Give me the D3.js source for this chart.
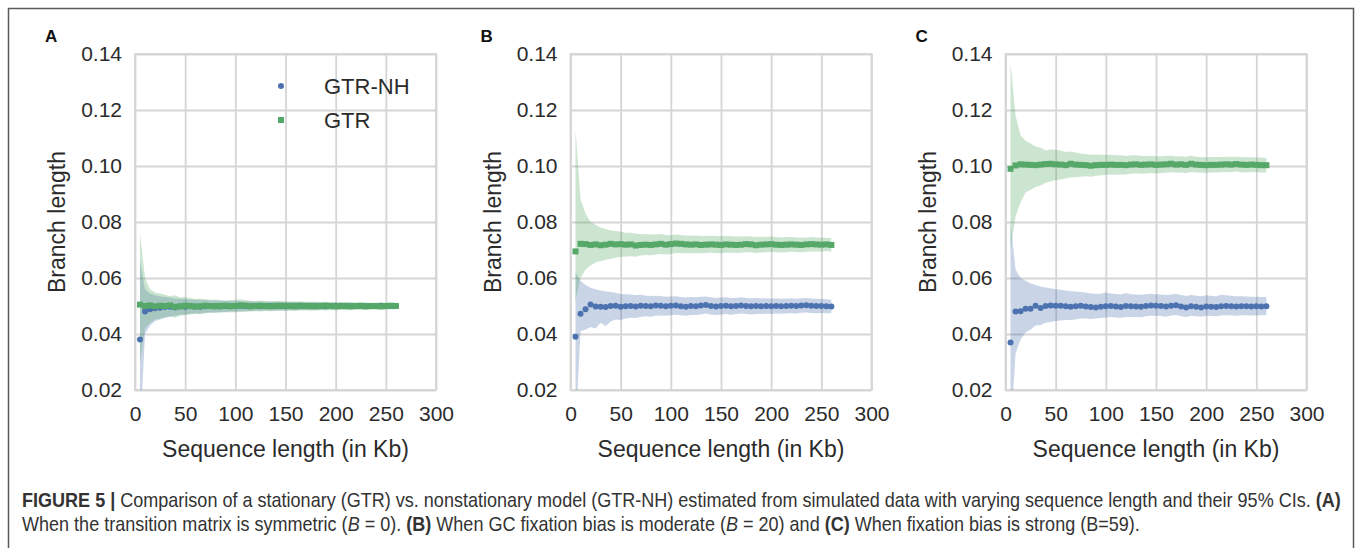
<!DOCTYPE html>
<html>
<head>
<meta charset="utf-8">
<script src="https://cdn.jsdelivr.net/npm/d3@7/dist/d3.min.js"></script>
<style>
body { margin: 0; background: #fff; }
svg text { font-family: "Liberation Sans", Arial, sans-serif; }
</style>
</head>
<body>
<div id="figure"></div>
<script>
// sequence length (Kb)
var seqLength = [5,10,15,20,25,30,35,40,45,50,55,60,65,70,75,80,85,90,95,100,105,110,115,120,125,130,
    135,140,145,150,155,160,165,170,175,180,185,190,195,200,205,210,215,220,225,230,235,240,245,250,255,260];

// panel A (B = 0)
var nhMeanA = [0.0380,0.0480,0.0488,0.0492,0.0494,0.0496,0.0497,0.0495,0.0498,0.0497,0.0499,0.0498,0.0497,0.0499,0.0500,0.0499,0.0498,0.0500,0.0499,0.0500,0.0501,0.0500,0.0499,0.0500,0.0500,0.0499,
    0.0500,0.0501,0.0500,0.0499,0.0500,0.0500,0.0501,0.0500,0.0499,0.0500,0.0500,0.0499,0.0500,0.0500,0.0501,0.0500,0.0499,0.0500,0.0500,0.0499,0.0500,0.0500,0.0501,0.0500,0.0500,0.0500];
var nhHighA = [0.0660,0.0560,0.0545,0.0538,0.0535,0.0532,0.0530,0.0527,0.0526,0.0525,0.0523,0.0522,0.0521,0.0521,0.0520,0.0519,0.0519,0.0518,0.0518,0.0518,0.0517,0.0517,0.0516,0.0516,0.0516,0.0515,
    0.0515,0.0515,0.0514,0.0514,0.0514,0.0514,0.0513,0.0513,0.0513,0.0513,0.0513,0.0512,0.0512,0.0512,0.0512,0.0512,0.0512,0.0511,0.0511,0.0511,0.0511,0.0511,0.0511,0.0511,0.0510,0.0510];
var nhLowA = [0.0050,0.0400,0.0430,0.0446,0.0452,0.0458,0.0462,0.0465,0.0468,0.0470,0.0472,0.0473,0.0474,0.0476,0.0477,0.0478,0.0478,0.0479,0.0480,0.0480,0.0481,0.0482,0.0482,0.0483,0.0483,0.0484,
    0.0484,0.0484,0.0485,0.0485,0.0485,0.0486,0.0486,0.0486,0.0487,0.0487,0.0487,0.0487,0.0488,0.0488,0.0488,0.0488,0.0488,0.0489,0.0489,0.0489,0.0489,0.0489,0.0489,0.0490,0.0490,0.0490];
var gtrMeanA = [0.0505,0.0500,0.0502,0.0499,0.0501,0.0500,0.0502,0.0497,0.0499,0.0501,0.0500,0.0498,0.0499,0.0501,0.0500,0.0499,0.0500,0.0501,0.0499,0.0500,0.0502,0.0501,0.0499,0.0500,0.0501,0.0500,
    0.0499,0.0500,0.0501,0.0500,0.0500,0.0499,0.0501,0.0500,0.0500,0.0499,0.0500,0.0501,0.0500,0.0499,0.0500,0.0500,0.0499,0.0500,0.0501,0.0499,0.0500,0.0500,0.0499,0.0500,0.0501,0.0500];
var gtrHighA = [0.0760,0.0600,0.0560,0.0548,0.0545,0.0540,0.0535,0.0538,0.0530,0.0532,0.0528,0.0525,0.0527,0.0524,0.0522,0.0523,0.0521,0.0520,0.0521,0.0522,0.0524,0.0521,0.0519,0.0518,0.0520,0.0518,
    0.0517,0.0518,0.0519,0.0517,0.0516,0.0517,0.0516,0.0515,0.0516,0.0515,0.0514,0.0515,0.0514,0.0514,0.0513,0.0514,0.0513,0.0513,0.0512,0.0513,0.0512,0.0512,0.0513,0.0512,0.0512,0.0512];
var gtrLowA = [0.0300,0.0420,0.0440,0.0452,0.0455,0.0460,0.0463,0.0458,0.0466,0.0467,0.0470,0.0472,0.0470,0.0474,0.0476,0.0475,0.0477,0.0478,0.0477,0.0478,0.0479,0.0479,0.0480,0.0481,0.0480,0.0482,
    0.0481,0.0482,0.0483,0.0482,0.0483,0.0482,0.0484,0.0484,0.0483,0.0484,0.0485,0.0484,0.0485,0.0485,0.0486,0.0485,0.0486,0.0486,0.0487,0.0486,0.0487,0.0487,0.0486,0.0487,0.0488,0.0488];

// panel B (B = 20)
var nhMeanB = [0.0390,0.0472,0.0488,0.0505,0.0498,0.0497,0.0496,0.0500,0.0501,0.0497,0.0499,0.0500,0.0498,0.0501,0.0500,0.0499,0.0502,0.0501,0.0499,0.0501,0.0502,0.0499,0.0497,0.0500,0.0499,0.0502,
    0.0504,0.0500,0.0498,0.0500,0.0501,0.0499,0.0500,0.0502,0.0500,0.0499,0.0500,0.0499,0.0500,0.0499,0.0500,0.0499,0.0500,0.0501,0.0500,0.0502,0.0503,0.0501,0.0500,0.0500,0.0499,0.0498];
var nhHighB = [0.0620,0.0590,0.0575,0.0565,0.0560,0.0555,0.0552,0.0550,0.0547,0.0543,0.0542,0.0541,0.0538,0.0540,0.0537,0.0536,0.0537,0.0536,0.0533,0.0534,0.0535,0.0532,0.0530,0.0532,0.0531,0.0533,
    0.0534,0.0531,0.0529,0.0530,0.0531,0.0529,0.0529,0.0531,0.0529,0.0528,0.0529,0.0527,0.0528,0.0527,0.0527,0.0526,0.0527,0.0528,0.0526,0.0528,0.0529,0.0527,0.0526,0.0525,0.0524,0.0522];
var nhLowB = [0.0050,0.0410,0.0415,0.0425,0.0420,0.0440,0.0428,0.0445,0.0452,0.0450,0.0455,0.0458,0.0457,0.0461,0.0463,0.0462,0.0465,0.0466,0.0465,0.0467,0.0469,0.0467,0.0465,0.0468,0.0468,0.0470,
    0.0473,0.0469,0.0468,0.0470,0.0471,0.0469,0.0471,0.0473,0.0471,0.0470,0.0471,0.0471,0.0472,0.0471,0.0473,0.0472,0.0473,0.0474,0.0473,0.0476,0.0477,0.0475,0.0474,0.0475,0.0474,0.0474];
var gtrMeanB = [0.0695,0.0722,0.0721,0.0718,0.0720,0.0717,0.0719,0.0722,0.0720,0.0721,0.0719,0.0720,0.0716,0.0718,0.0719,0.0718,0.0720,0.0722,0.0719,0.0721,0.0723,0.0722,0.0720,0.0719,0.0720,0.0718,
    0.0719,0.0720,0.0719,0.0718,0.0720,0.0719,0.0718,0.0719,0.0721,0.0720,0.0717,0.0719,0.0720,0.0721,0.0719,0.0718,0.0719,0.0720,0.0719,0.0718,0.0720,0.0721,0.0720,0.0719,0.0720,0.0718];
var gtrHighB = [0.1130,0.0880,0.0830,0.0800,0.0790,0.0780,0.0775,0.0770,0.0768,0.0765,0.0762,0.0762,0.0758,0.0757,0.0756,0.0755,0.0756,0.0757,0.0754,0.0753,0.0755,0.0754,0.0752,0.0751,0.0752,0.0750,
    0.0750,0.0751,0.0750,0.0749,0.0750,0.0749,0.0748,0.0748,0.0749,0.0748,0.0746,0.0747,0.0747,0.0748,0.0746,0.0745,0.0746,0.0746,0.0745,0.0744,0.0745,0.0746,0.0745,0.0744,0.0744,0.0742];
var gtrLowB = [0.0520,0.0600,0.0630,0.0645,0.0655,0.0660,0.0665,0.0668,0.0672,0.0675,0.0677,0.0678,0.0676,0.0680,0.0682,0.0681,0.0684,0.0686,0.0684,0.0686,0.0689,0.0689,0.0688,0.0688,0.0689,0.0688,
    0.0689,0.0690,0.0689,0.0688,0.0690,0.0690,0.0689,0.0690,0.0692,0.0692,0.0689,0.0691,0.0692,0.0694,0.0692,0.0691,0.0692,0.0694,0.0693,0.0692,0.0694,0.0695,0.0695,0.0694,0.0696,0.0694];

// panel C (B = 59)
var nhMeanC = [0.0370,0.0480,0.0481,0.0490,0.0490,0.0501,0.0493,0.0500,0.0502,0.0501,0.0501,0.0499,0.0497,0.0499,0.0501,0.0498,0.0496,0.0495,0.0497,0.0499,0.0500,0.0498,0.0496,0.0500,0.0499,0.0498,
    0.0497,0.0500,0.0502,0.0501,0.0500,0.0498,0.0501,0.0503,0.0498,0.0495,0.0499,0.0497,0.0495,0.0498,0.0497,0.0496,0.0499,0.0500,0.0499,0.0498,0.0499,0.0499,0.0498,0.0499,0.0498,0.0499];
var nhHighC = [0.0800,0.0630,0.0600,0.0590,0.0580,0.0575,0.0570,0.0566,0.0563,0.0560,0.0558,0.0555,0.0553,0.0552,0.0550,0.0548,0.0545,0.0544,0.0544,0.0548,0.0545,0.0543,0.0541,0.0546,0.0542,0.0541,
    0.0540,0.0542,0.0544,0.0542,0.0541,0.0539,0.0541,0.0543,0.0539,0.0536,0.0539,0.0537,0.0535,0.0538,0.0536,0.0535,0.0540,0.0538,0.0537,0.0535,0.0535,0.0534,0.0533,0.0533,0.0532,0.0532];
var nhLowC = [0.0050,0.0330,0.0380,0.0405,0.0415,0.0430,0.0432,0.0440,0.0443,0.0446,0.0448,0.0450,0.0450,0.0452,0.0455,0.0455,0.0454,0.0455,0.0457,0.0459,0.0461,0.0459,0.0458,0.0461,0.0461,0.0461,
    0.0460,0.0463,0.0465,0.0465,0.0464,0.0462,0.0466,0.0468,0.0463,0.0461,0.0465,0.0463,0.0462,0.0465,0.0464,0.0463,0.0466,0.0467,0.0466,0.0465,0.0467,0.0467,0.0466,0.0467,0.0467,0.0468];
var gtrMeanC = [0.0990,0.1002,0.1006,0.1005,0.1004,0.1003,0.1005,0.1007,0.1008,0.1006,0.1005,0.1003,0.1008,0.1005,0.1004,0.1003,0.1001,0.1003,0.1004,0.1004,0.1005,0.1004,0.1004,0.1003,0.1005,0.1006,
    0.1004,0.1005,0.1006,0.1004,0.1005,0.1006,0.1008,0.1005,0.1006,0.1004,0.1008,0.1005,0.1004,0.1003,0.1004,0.1004,0.1005,0.1006,0.1005,0.1007,0.1005,0.1004,0.1005,0.1004,0.1003,0.1003];
var gtrHighC = [0.1370,0.1180,0.1110,0.1090,0.1080,0.1070,0.1065,0.1055,0.1060,0.1058,0.1055,0.1050,0.1052,0.1048,0.1045,0.1043,0.1040,0.1041,0.1040,0.1039,0.1040,0.1038,0.1038,0.1036,0.1038,0.1038,
    0.1036,0.1036,0.1037,0.1035,0.1035,0.1036,0.1037,0.1034,0.1035,0.1033,0.1037,0.1033,0.1032,0.1031,0.1032,0.1032,0.1032,0.1033,0.1032,0.1033,0.1032,0.1031,0.1031,0.1030,0.1030,0.1029];
var gtrLowC = [0.0700,0.0820,0.0870,0.0905,0.0915,0.0925,0.0930,0.0940,0.0945,0.0950,0.0952,0.0955,0.0960,0.0960,0.0962,0.0963,0.0962,0.0965,0.0967,0.0968,0.0970,0.0969,0.0970,0.0970,0.0972,0.0974,
    0.0972,0.0973,0.0975,0.0973,0.0975,0.0976,0.0978,0.0976,0.0977,0.0975,0.0979,0.0977,0.0976,0.0976,0.0977,0.0977,0.0978,0.0979,0.0978,0.0980,0.0978,0.0977,0.0979,0.0978,0.0977,0.0977];

var panelLetters = ['A', 'B', 'C'];
var seriesNames = ['GTR-NH', 'GTR'];
var xTicks = [0, 50, 100, 150, 200, 250, 300];
var yTicks = [0.02, 0.04, 0.06, 0.08, 0.10, 0.12, 0.14];

var width = 1358,
    height = 548;

var blue = '#4c72b0',
    green = '#55a868',
    gridColor = '#d5d5d5',
    textColor = '#2b2b2b';

var svg = d3.select('#figure')
    .append('svg')
        .attr('width', width)
        .attr('height', height);

// outer figure frame
svg.append('rect')
    .attr('x', 8.5)
    .attr('y', 8.5)
    .attr('width', 1345)
    .attr('height', 560)
    .attr('fill', 'none')
    .attr('stroke', '#5a5a5a')
    .attr('stroke-width', 1.5);

function toRows(means, lows, highs) {
    return seqLength.map(function (s, i) {
        return {x: s, mean: means[i], lo: lows[i], hi: highs[i]};
    });
}

function drawPanel(idx, left, nh, gtr) {
    var top = 54,
        bottom = 390,
        right = left + 301;
    var x = d3.scaleLinear().domain([0, 300]).range([left, right]),
        y = d3.scaleLinear().domain([0.02, 0.14]).range([bottom, top]);

    var g = svg.append('g').attr('class', 'panel');

    // grid lines
    g.append('g')
        .attr('transform', 'translate(0,' + bottom + ')')
        .call(d3.axisBottom(x).tickValues(xTicks).tickSize(-(bottom - top)).tickFormat(''))
        .call(function (a) { a.select('.domain').remove(); });
    g.append('g')
        .attr('transform', 'translate(' + left + ',0)')
        .call(d3.axisLeft(y).tickValues(yTicks).tickSize(-(right - left)).tickFormat(''))
        .call(function (a) { a.select('.domain').remove(); });
    g.selectAll('.tick line')
        .attr('stroke', gridColor)
        .attr('stroke-width', 1.8);
    g.append('rect')
        .attr('x', left)
        .attr('y', top)
        .attr('width', right - left)
        .attr('height', bottom - top)
        .attr('fill', 'none')
        .attr('stroke', gridColor)
        .attr('stroke-width', 1.8);

    // tick labels
    var xa = g.append('g')
        .attr('transform', 'translate(0,' + bottom + ')')
        .call(d3.axisBottom(x).tickValues(xTicks).tickSize(0).tickPadding(16));
    var ya = g.append('g')
        .attr('transform', 'translate(' + left + ',0)')
        .call(d3.axisLeft(y).tickValues(yTicks).tickSize(0).tickPadding(13).tickFormat(d3.format('.2f')));
    [xa, ya].forEach(function (a) {
        a.select('.domain').remove();
        a.selectAll('text')
            .attr('fill', textColor)
            .style('font-size', '21px')
            .style('font-family', '"Liberation Sans", Arial, sans-serif');
    });

    // axis titles
    g.append('text')
        .attr('x', (left + right) / 2)
        .attr('y', 457)
        .attr('text-anchor', 'middle')
        .attr('fill', textColor)
        .style('font-size', '23px')
        .text('Sequence length (in Kb)');
    g.append('text')
        .attr('transform', 'translate(' + (left - 70) + ',' + ((top + bottom) / 2) + ') rotate(-90)')
        .attr('text-anchor', 'middle')
        .attr('fill', textColor)
        .style('font-size', '23px')
        .text('Branch length');

    // panel letter
    g.append('text')
        .attr('x', left - 90)
        .attr('y', 42)
        .attr('fill', '#111')
        .style('font-size', '17px')
        .style('font-weight', 'bold')
        .text(panelLetters[idx]);

    // confidence bands, clipped to the axes
    var clipId = 'clip-' + idx;
    svg.append('defs').append('clipPath')
        .attr('id', clipId)
        .append('rect')
            .attr('x', left)
            .attr('y', top)
            .attr('width', right - left)
            .attr('height', bottom - top);

    var area = d3.area()
        .x(function (d) { return x(d.x); })
        .y0(function (d) { return y(d.lo); })
        .y1(function (d) { return y(d.hi); });

    var bands = g.append('g').attr('clip-path', 'url(#' + clipId + ')');
    bands.append('path')
        .datum(nh)
        .attr('d', area)
        .attr('fill', blue)
        .attr('fill-opacity', 0.3);
    bands.append('path')
        .datum(gtr)
        .attr('d', area)
        .attr('fill', green)
        .attr('fill-opacity', 0.3);

    // estimates
    bands.selectAll('circle.nh')
        .data(nh)
        .enter()
        .append('circle')
            .attr('class', 'nh')
            .attr('cx', function (d) { return x(d.x); })
            .attr('cy', function (d) { return y(d.mean); })
            .attr('r', 3)
            .attr('fill', blue);
    bands.selectAll('rect.gtr')
        .data(gtr)
        .enter()
        .append('rect')
            .attr('class', 'gtr')
            .attr('x', function (d) { return x(d.x) - 3; })
            .attr('y', function (d) { return y(d.mean) - 3; })
            .attr('width', 6)
            .attr('height', 6)
            .attr('fill', green);

    // legend only in panel A
    if (idx === 0) {
        var lg = g.append('g');
        lg.append('circle')
            .attr('cx', left + 146)
            .attr('cy', 86)
            .attr('r', 3)
            .attr('fill', blue);
        lg.append('rect')
            .attr('x', left + 143)
            .attr('y', 117)
            .attr('width', 6)
            .attr('height', 6)
            .attr('fill', green);
        lg.selectAll('text')
            .data(seriesNames)
            .enter()
            .append('text')
                .attr('x', left + 189)
                .attr('y', function (d, i) { return 86 + i * 34 + 8; })
                .attr('fill', textColor)
                .style('font-size', '22px')
                .text(function (d) { return d; });
    }
}

drawPanel(0, 135, toRows(nhMeanA, nhLowA, nhHighA), toRows(gtrMeanA, gtrLowA, gtrHighA));
drawPanel(1, 570.5, toRows(nhMeanB, nhLowB, nhHighB), toRows(gtrMeanB, gtrLowB, gtrHighB));
drawPanel(2, 1005.5, toRows(nhMeanC, nhLowC, nhHighC), toRows(gtrMeanC, gtrLowC, gtrHighC));

// caption: Arial metrics squeezed horizontally to look like a condensed face
var capGroups = [];
function captionLine(yPos, parts) {
    var lineG = svg.append('g').attr('transform', 'translate(22,' + yPos + ')');
    var t = lineG.append('text')
        .attr('x', 0)
        .attr('y', 0)
        .attr('fill', '#333')
        .style('font-size', '20px');
    parts.forEach(function (p) {
        var sp = t.append('tspan').text(p[0]);
        if (p[1] === 'b') sp.style('font-weight', 'bold');
        if (p[1] === 'i') sp.style('font-style', 'italic');
    });
    capGroups.push({g: lineG, t: t});
}

captionLine(507, [
    ['FIGURE 5 | ', 'b'],
    ['Comparison of a stationary (GTR) vs. nonstationary model (GTR-NH) estimated from simulated data with varying sequence length and their 95% CIs. '],
    ['(A)', 'b']
]);
captionLine(531, [
    ['When the transition matrix is symmetric ('],
    ['B', 'i'],
    [' = 0). '],
    ['(B)', 'b'],
    [' When GC fixation bias is moderate ('],
    ['B', 'i'],
    [' = 20) and '],
    ['(C)', 'b'],
    [' When fixation bias is strong (B=59).']
]);

var squeeze = 1320 / capGroups[0].t.node().getComputedTextLength();
capGroups.forEach(function (c) {
    c.g.attr('transform', c.g.attr('transform') + ' scale(' + squeeze + ',1)');
});
</script>
</body>
</html>
